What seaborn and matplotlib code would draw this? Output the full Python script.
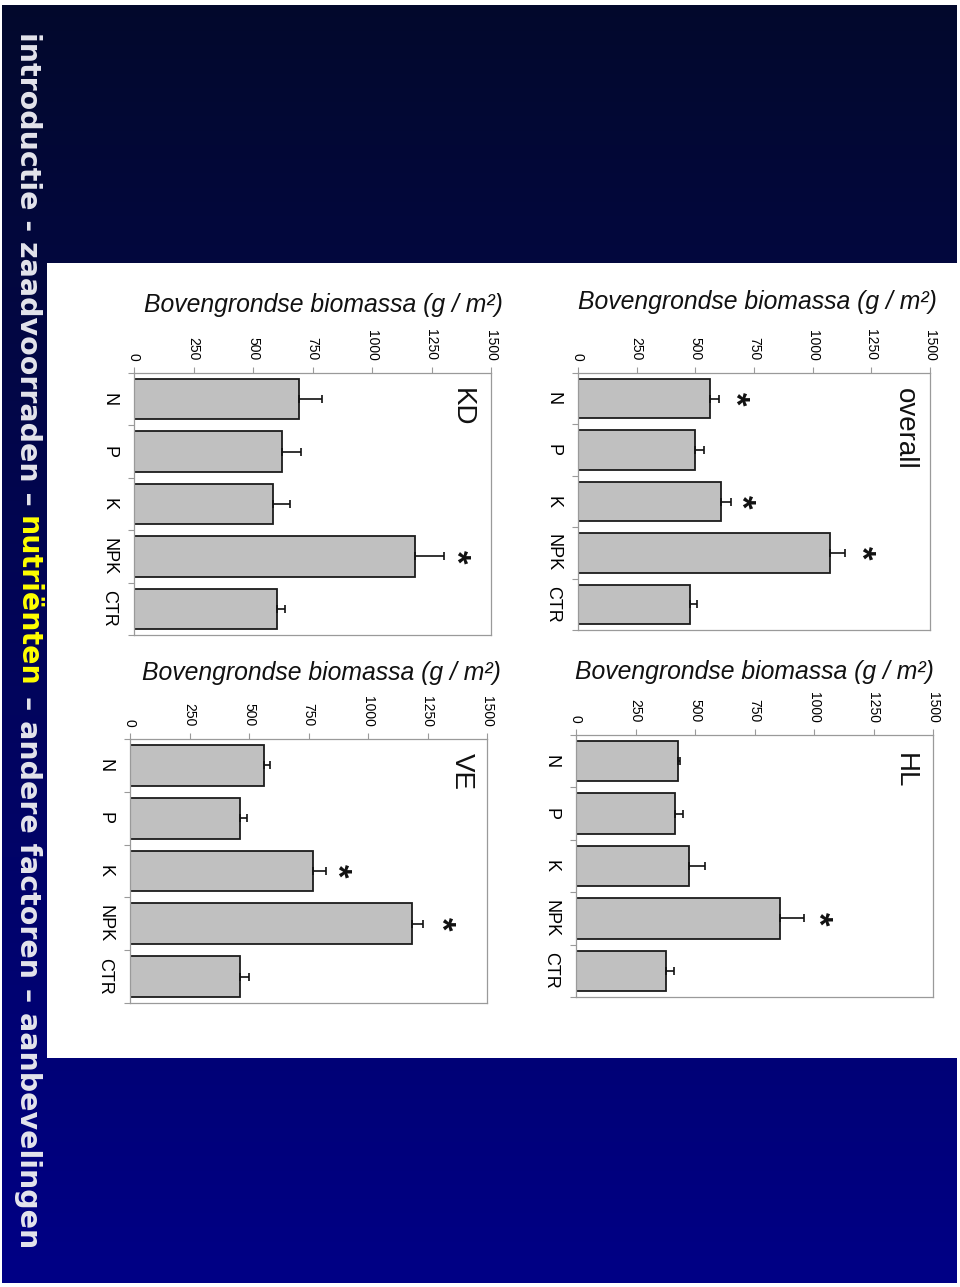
import numpy as np
import pandas as pd
import matplotlib
matplotlib.use("Agg")
import matplotlib.pyplot as plt
import matplotlib.transforms as mtransforms
from matplotlib.patches import Rectangle
import seaborn as sns

# ---------------- data ----------------
categories = ["N", "P", "K", "NPK", "CTR"]

overall_mean = [564, 499, 611, 1075, 479]
overall_err = [37, 37, 40, 62, 29]
hl_mean = [429, 416, 476, 858, 378]
hl_err = [9, 34, 66, 98, 34]
kd_mean = [695, 622, 585, 1180, 599]
kd_err = [94, 79, 70, 122, 37]
ve_mean = [565, 464, 767, 1183, 464]
ve_err = [22, 28, 55, 50, 38]

# significance markers (category, value position of the star)
overall_sig = [("N", 697), ("K", 721), ("NPK", 1233)]
hl_sig = [("NPK", 1043)]
kd_sig = [("NPK", 1381)]
ve_sig = [("K", 896), ("NPK", 1334)]

value_ticks = [0, 250, 500, 750, 1000, 1250, 1500]
axis_label = "Bovengrondse biomassa (g / m\u00b2)"
panel_names = ["overall", "HL", "KD", "VE"]

title_part1 = "introductie - zaadvoorraden \u2013"
title_part2 = "nutri\u00ebnten"
title_part3 = "\u2013 andere factoren \u2013 aanbevelingen"

# ---------------- figure ----------------
plt.rcParams["font.family"] = ["Liberation Sans", "DejaVu Sans"]
W, H = 960, 1287
fig = plt.figure(figsize=(W / 100, H / 100), dpi=100)

# background slide
bg = fig.add_axes([0, 0, 1, 1])
bg.set_zorder(-5)
top_c = np.array([3, 9, 44]) / 255
bot_c = np.array([0, 0, 134]) / 255
t = np.linspace(0, 1, 256)[:, None, None]
grad = top_c[None, None, :] * (1 - t) + bot_c[None, None, :] * t
bg.imshow(grad, extent=[0, W, H, 0], aspect="auto", interpolation="bilinear")
bg.set_xlim(0, W)
bg.set_ylim(H, 0)
bg.axis("off")
# white borders and white content panel
for (x, y, w, h) in [(0, 0, W, 5), (0, 0, 2, H), (957, 0, 3, H), (0, 1283, W, 4),
                     (47, 263, 913, 795)]:
    bg.add_patch(Rectangle((x, y), w, h, facecolor="white", edgecolor="none"))

# slide title (rotated, reading top to bottom) built from three segments
renderer = fig.canvas.get_renderer()
tkw = dict(fontsize=20, fontweight="bold", family=["DejaVu Sans"])


def text_w(s, fs):
    tt = fig.text(0, 0, s, **{**tkw, "fontsize": fs})
    w = tt.get_window_extent(renderer).width
    tt.remove()
    return w


full = title_part1 + " " + title_part2 + " " + title_part3
target_len = 1221
fs = 20 * target_len / text_w(full, 20)
w_full = text_w(full, fs)
off2 = text_w(title_part1 + " " + title_part2, fs) - text_w(title_part2, fs)
off3 = w_full - text_w(title_part3, fs)
y_start = 32
title_x = 28
for seg, off, col in [(title_part1, 0, "#e4e4ec"), (title_part2, off2, "#ffff00"),
                      (title_part3, off3, "#e4e4ec")]:
    fig.text(title_x / W, 1 - (y_start + off) / H, seg, rotation=-90,
             ha="center", va="top", color=col, **{**tkw, "fontsize": fs})

# ---------------- panels ----------------
panels = [
    dict(name=panel_names[0], mean=overall_mean, err=overall_err, sig=overall_sig,
         px=(578, 930, 373, 630), lab_cx=0.51, lab_dy=71, name_x=1394, name_dy=15),
    dict(name=panel_names[1], mean=hl_mean, err=hl_err, sig=hl_sig,
         px=(576, 933, 735, 997), lab_cx=0.50, lab_dy=63, name_x=1382, name_dy=18),
    dict(name=panel_names[2], mean=kd_mean, err=kd_err, sig=kd_sig,
         px=(134, 491, 373, 635), lab_cx=0.53, lab_dy=68, name_x=1378, name_dy=15),
    dict(name=panel_names[3], mean=ve_mean, err=ve_err, sig=ve_sig,
         px=(130, 487, 739, 1003), lab_cx=0.535, lab_dy=66, name_x=1395, name_dy=14),
]

spine_c = "#9a9a9a"
for p in panels:
    x0, x1, yt, yb = p["px"]
    ax = fig.add_axes([x0 / W, (H - yb) / H, (x1 - x0) / W, (yb - yt) / H])
    df = pd.DataFrame({"cat": categories, "val": p["mean"]})
    sns.barplot(data=df, x="val", y="cat", orient="h", order=categories,
                color="#c0c0c0", saturation=1, width=0.77, errorbar=None,
                edgecolor="#1c1c1c", linewidth=1.3, ax=ax, zorder=2)
    ax.errorbar(p["mean"], np.arange(len(categories)),
                xerr=[np.zeros(len(categories)), p["err"]], fmt="none",
                ecolor="#111111", elinewidth=1.2, capsize=2.6, capthick=1.2, zorder=3)
    ax.set_xlim(0, 1500)
    ax.set_ylim(len(categories) - 0.5, -0.5)
    ax.set_xlabel("")
    ax.set_ylabel("")
    ax.set_facecolor("white")
    for s in ax.spines.values():
        s.set_color(spine_c)
        s.set_linewidth(0.9)
    # value axis on top
    ax.xaxis.tick_top()
    ax.set_xticks(value_ticks)
    ax.set_xticklabels([str(v) for v in value_ticks])
    ax.tick_params(axis="x", which="major", direction="out", length=4, width=0.8,
                   color=spine_c, pad=5, labelsize=10)
    for lab in ax.get_xticklabels():
        lab.set_rotation(-90)
        lab.set_ha("center")
        lab.set_va("bottom")
    # category axis
    ax.set_yticks(np.arange(len(categories)))
    ax.set_yticklabels(categories)
    ax.set_yticks(np.arange(-0.5, len(categories), 1), minor=True)
    ax.tick_params(axis="y", which="major", length=0, pad=12, labelsize=13)
    ax.tick_params(axis="y", which="minor", length=4, width=0.8, color=spine_c,
                   direction="out")
    for lab in ax.get_yticklabels():
        lab.set_rotation(-90)
        lab.set_va("center")
        lab.set_ha("right")
    # axis title above
    hpx = yb - yt
    ax.text(p["lab_cx"], 1 + p["lab_dy"] / hpx, axis_label, transform=ax.transAxes,
            ha="center", va="center", fontsize=17.8, style="italic", color="#111111")
    # panel name
    trans = mtransforms.blended_transform_factory(ax.transData, ax.transAxes)
    ax.text(p["name_x"], 1 - p["name_dy"] / hpx, p["name"], transform=trans,
            rotation=-90, ha="center", va="top", fontsize=20, color="#111111")
    # significance stars
    for cat, xv in p["sig"]:
        ax.text(xv - 30, categories.index(cat), "*", rotation=-90, ha="center",
                va="center", fontsize=25, fontweight="bold", color="#111111", zorder=4)

fig.savefig("out.png", dpi=100)
